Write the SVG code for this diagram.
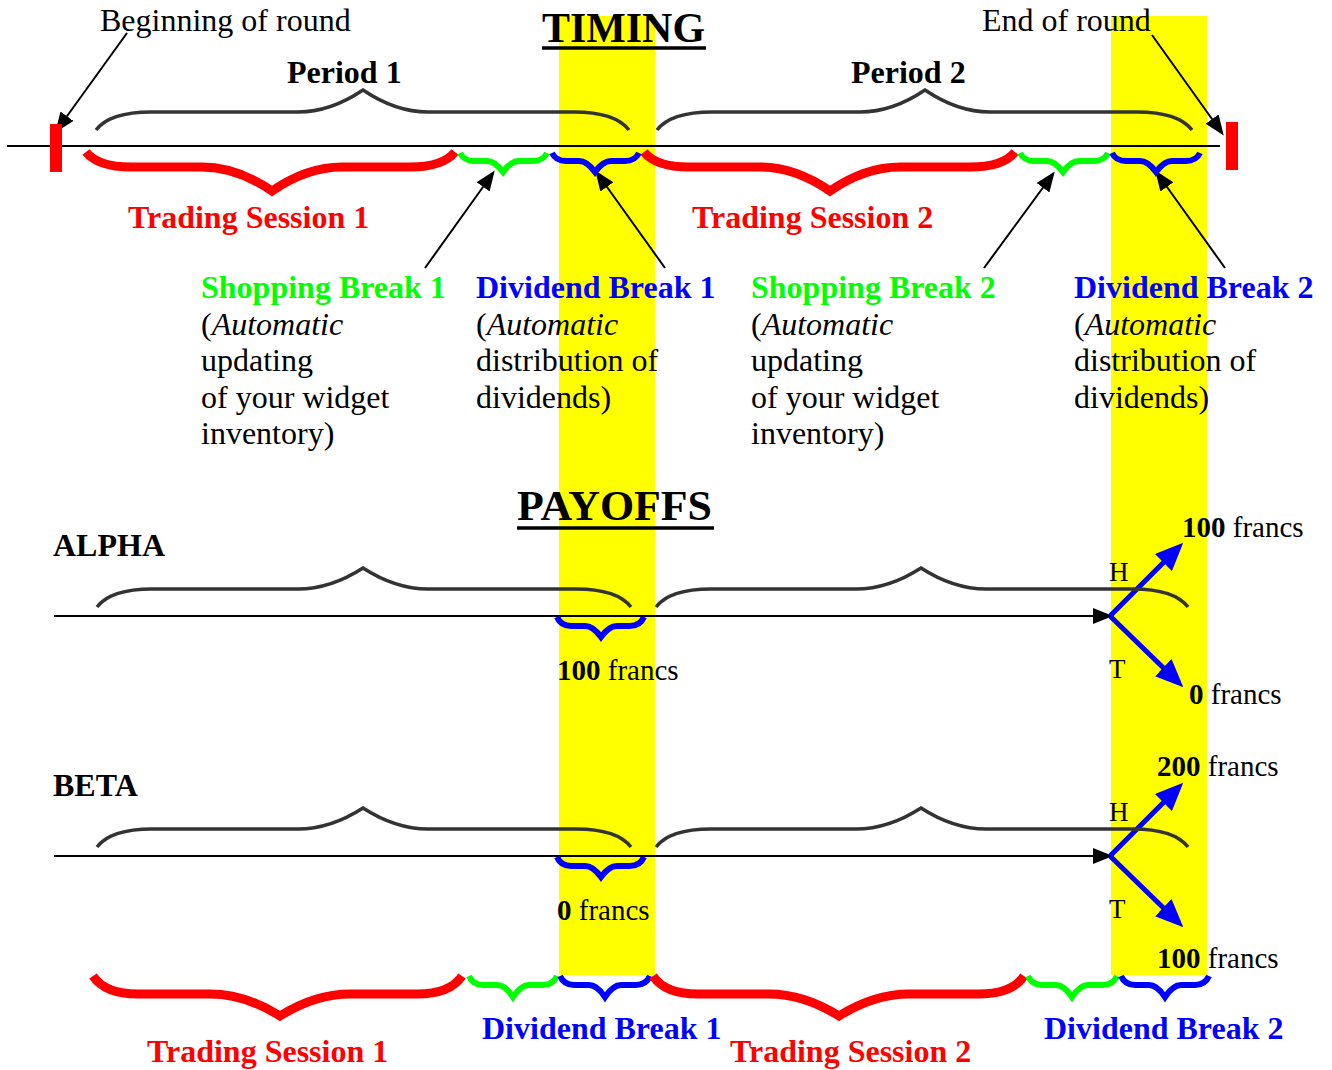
<svg xmlns="http://www.w3.org/2000/svg" width="1332" height="1070" viewBox="0 0 1332 1070">
<style>
text{font-family:"Liberation Serif","Times New Roman",serif;fill:#000}
.b{font-weight:bold}
.t32{font-size:32px}
.t29{font-size:29px}
.red{fill:#ff0000}
.grn{fill:#00ff00}
.blu{fill:#0000ff}
.br-g{fill:none;stroke:#333;stroke-width:3.5}
.br-r{fill:none;stroke:#ff0000;stroke-width:9}
.br-gr{fill:none;stroke:#00ff00;stroke-width:6}
.br-b{fill:none;stroke:#0000ff;stroke-width:6}
.ln{stroke:#000;stroke-width:2;fill:none}
.ar{stroke:#000;stroke-width:2;fill:none;marker-end:url(#ah)}
.bar{stroke:#0000ff;stroke-width:5;fill:none;marker-end:url(#bh)}
.yel{fill:#ffff00}
</style>
<defs>
<marker id="ah" markerUnits="userSpaceOnUse" markerWidth="20" markerHeight="16" viewBox="0 0 20 16" refX="17" refY="8" orient="auto">
<path d="M0,0 L20,8 L0,16 z" fill="#000"/>
</marker>
<marker id="bh" markerUnits="userSpaceOnUse" markerWidth="28" markerHeight="24" viewBox="0 0 28 24" refX="22" refY="12" orient="auto">
<path d="M0,0 L28,12 L0,24 z" fill="#0000ff"/>
</marker>
</defs>
<g id="bands">
<rect class="yel" x="559" y="16" width="96" height="959"/>
<rect class="yel" x="1111" y="16" width="96" height="959"/>
</g>
<g id="titles">
<text class="b" x="542" y="42" font-size="42" textLength="163" lengthAdjust="spacingAndGlyphs">TIMING</text>
<line x1="542" y1="48" x2="706" y2="48" stroke="#000" stroke-width="3.5"/>
<text class="b" x="517" y="520" font-size="42" textLength="195" lengthAdjust="spacingAndGlyphs">PAYOFFS</text>
<line x1="517" y1="528" x2="714" y2="528" stroke="#000" stroke-width="3.5"/>
</g>
<g id="connectors">
<line class="ln" x1="7" y1="146" x2="1220" y2="146"/>
<line class="ar" x1="127" y1="33" x2="57" y2="130"/>
<line class="ar" x1="1152" y1="35" x2="1222" y2="133"/>
<line class="ar" x1="425" y1="268" x2="493" y2="173"/>
<line class="ar" x1="665" y1="268" x2="597" y2="173"/>
<line class="ar" x1="984" y1="268" x2="1053" y2="174"/>
<line class="ar" x1="1225" y1="268" x2="1157" y2="173"/>
<line class="ar" x1="54" y1="616" x2="1110" y2="616"/>
<line class="ar" x1="54" y1="856" x2="1110" y2="856"/>
<line class="bar" x1="1110" y1="616" x2="1179" y2="547"/>
<line class="bar" x1="1110" y1="616" x2="1179" y2="683"/>
<line class="bar" x1="1110" y1="856" x2="1179" y2="787"/>
<line class="bar" x1="1110" y1="856" x2="1179" y2="923"/>
</g>
<g id="round-markers">
<rect x="50" y="124" width="12" height="48" fill="#ff0000"/>
<rect x="1226" y="122" width="12" height="48" fill="#ff0000"/>
<text class="t32" x="100" y="31">Beginning of round</text>
<text class="t32" x="982" y="31">End of round</text>
</g>
<g id="period1">
<path class="br-g" d="M96,130 Q110,112 151,112 L298,112 Q330.5,112 363,90 Q395.5,112 428,112 L574,112 Q615,112 629,130"/>
<text class="b t32" x="287" y="83">Period 1</text>
</g>
<g id="period2">
<path class="br-g" d="M657,130 Q671,112 712,112 L860,112 Q892.5,112 925,90 Q957.5,112 990,112 L1137,112 Q1178,112 1192,130"/>
<text class="b t32" x="851" y="83">Period 2</text>
</g>
<g id="trading1">
<path class="br-r" d="M86,152 Q98,167 131,167 L202,167 Q237,167 272,191 Q307,167 342,167 L410,167 Q443,167 455,152"/>
<text class="b t32 red" x="128" y="228">Trading Session 1</text>
</g>
<g id="trading2">
<path class="br-r" d="M644,152 Q656,167 689,167 L760,167 Q795,167 830,191 Q865,167 900,167 L970,167 Q1003,167 1015,152"/>
<text class="b t32 red" x="692" y="228">Trading Session 2</text>
</g>
<g id="shopping1">
<path class="br-gr" d="M460,153 Q464,161 474,161 L487,161 Q495,161 503,172 Q511,161 519,161 L533,161 Q543,161 547,153"/>
<text class="b t32 grn" x="201" y="298">Shopping Break 1</text>
<text class="t32" x="201" y="335">(<tspan font-style="italic">Automatic</tspan></text>
<text class="t32" x="201" y="371">updating</text>
<text class="t32" x="201" y="408">of your widget</text>
<text class="t32" x="201" y="444">inventory)</text>
</g>
<g id="dividend1">
<path class="br-b" d="M552,153 Q556,161 566,161 L579,161 Q587,161 595,172 Q603,161 611,161 L625,161 Q635,161 639,153"/>
<text class="b t32 blu" x="476" y="298">Dividend Break 1</text>
<text class="t32" x="476" y="335">(<tspan font-style="italic">Automatic</tspan></text>
<text class="t32" x="476" y="371">distribution of</text>
<text class="t32" x="476" y="408">dividends)</text>
</g>
<g id="shopping2">
<path class="br-gr" d="M1020,153 Q1024,161 1034,161 L1047,161 Q1055,161 1063,172 Q1071,161 1079,161 L1094,161 Q1104,161 1108,153"/>
<text class="b t32 grn" x="751" y="298">Shopping Break 2</text>
<text class="t32" x="751" y="335">(<tspan font-style="italic">Automatic</tspan></text>
<text class="t32" x="751" y="371">updating</text>
<text class="t32" x="751" y="408">of your widget</text>
<text class="t32" x="751" y="444">inventory)</text>
</g>
<g id="dividend2">
<path class="br-b" d="M1112,153 Q1116,161 1126,161 L1140,161 Q1148,161 1156,172 Q1164,161 1172,161 L1186,161 Q1196,161 1200,153"/>
<text class="b t32 blu" x="1074" y="298">Dividend Break 2</text>
<text class="t32" x="1074" y="335">(<tspan font-style="italic">Automatic</tspan></text>
<text class="t32" x="1074" y="371">distribution of</text>
<text class="t32" x="1074" y="408">dividends)</text>
</g>
<g id="alpha">
<text class="b t32" x="53" y="556">ALPHA</text>
<path class="br-g" d="M97,607 Q111,589 152,589 L298,589 Q330.5,589 363,568 Q395.5,589 428,589 L576,589 Q617,589 631,607"/>
<path class="br-g" d="M656,607 Q670,589 711,589 L856,589 Q888.5,589 921,568 Q953.5,589 986,589 L1133,589 Q1174,589 1188,607"/>
<path class="br-b" d="M557,617 Q561,626 571,626 L585,626 Q593,626 601,637 Q609,626 617,626 L630,626 Q640,626 644,617"/>
<text class="t29" x="557" y="680"><tspan class="b">100</tspan> francs</text>
<text font-size="27" x="1109" y="581">H</text>
<text font-size="27" x="1109" y="678">T</text>
<text class="t29" x="1182" y="537"><tspan class="b">100</tspan> francs</text>
<text class="t29" x="1189" y="704"><tspan class="b">0</tspan> francs</text>
</g>
<g id="beta">
<text class="b t32" x="53" y="796">BETA</text>
<path class="br-g" d="M97,847 Q111,829 152,829 L298,829 Q330.5,829 363,808 Q395.5,829 428,829 L576,829 Q617,829 631,847"/>
<path class="br-g" d="M656,847 Q670,829 711,829 L856,829 Q888.5,829 921,808 Q953.5,829 986,829 L1133,829 Q1174,829 1188,847"/>
<path class="br-b" d="M557,857 Q561,866 571,866 L585,866 Q593,866 601,877 Q609,866 617,866 L630,866 Q640,866 644,857"/>
<text class="t29" x="557" y="920"><tspan class="b">0</tspan> francs</text>
<text font-size="27" x="1109" y="821">H</text>
<text font-size="27" x="1109" y="918">T</text>
<text class="t29" x="1157" y="776"><tspan class="b">200</tspan> francs</text>
<text class="t29" x="1157" y="968"><tspan class="b">100</tspan> francs</text>
</g>
<g id="bottom-legend">
<path class="br-r" d="M93,976 Q105,994 138,994 L210,994 Q245,994 280,1016 Q315,994 350,994 L417,994 Q450,994 462,976"/>
<path class="br-gr" d="M469,976 Q473,985 483,985 L497,985 Q505,985 513,997 Q521,985 529,985 L543,985 Q553,985 557,976"/>
<path class="br-b" d="M560,976 Q564,985 574,985 L589,985 Q597,985 605,997 Q613,985 621,985 L636,985 Q646,985 650,976"/>
<path class="br-r" d="M653,976 Q665,994 698,994 L769,994 Q804,994 839,1016 Q874,994 909,994 L979,994 Q1012,994 1024,976"/>
<path class="br-gr" d="M1028,976 Q1032,985 1042,985 L1056,985 Q1064,985 1072,997 Q1080,985 1088,985 L1103,985 Q1113,985 1117,976"/>
<path class="br-b" d="M1121,976 Q1125,985 1135,985 L1149,985 Q1157,985 1165,997 Q1173,985 1181,985 L1195,985 Q1205,985 1209,976"/>
<text class="b t32 red" x="147" y="1062">Trading Session 1</text>
<text class="b t32 blu" x="482" y="1039">Dividend Break 1</text>
<text class="b t32 red" x="730" y="1062">Trading Session 2</text>
<text class="b t32 blu" x="1044" y="1039">Dividend Break 2</text>
</g>
</svg>
